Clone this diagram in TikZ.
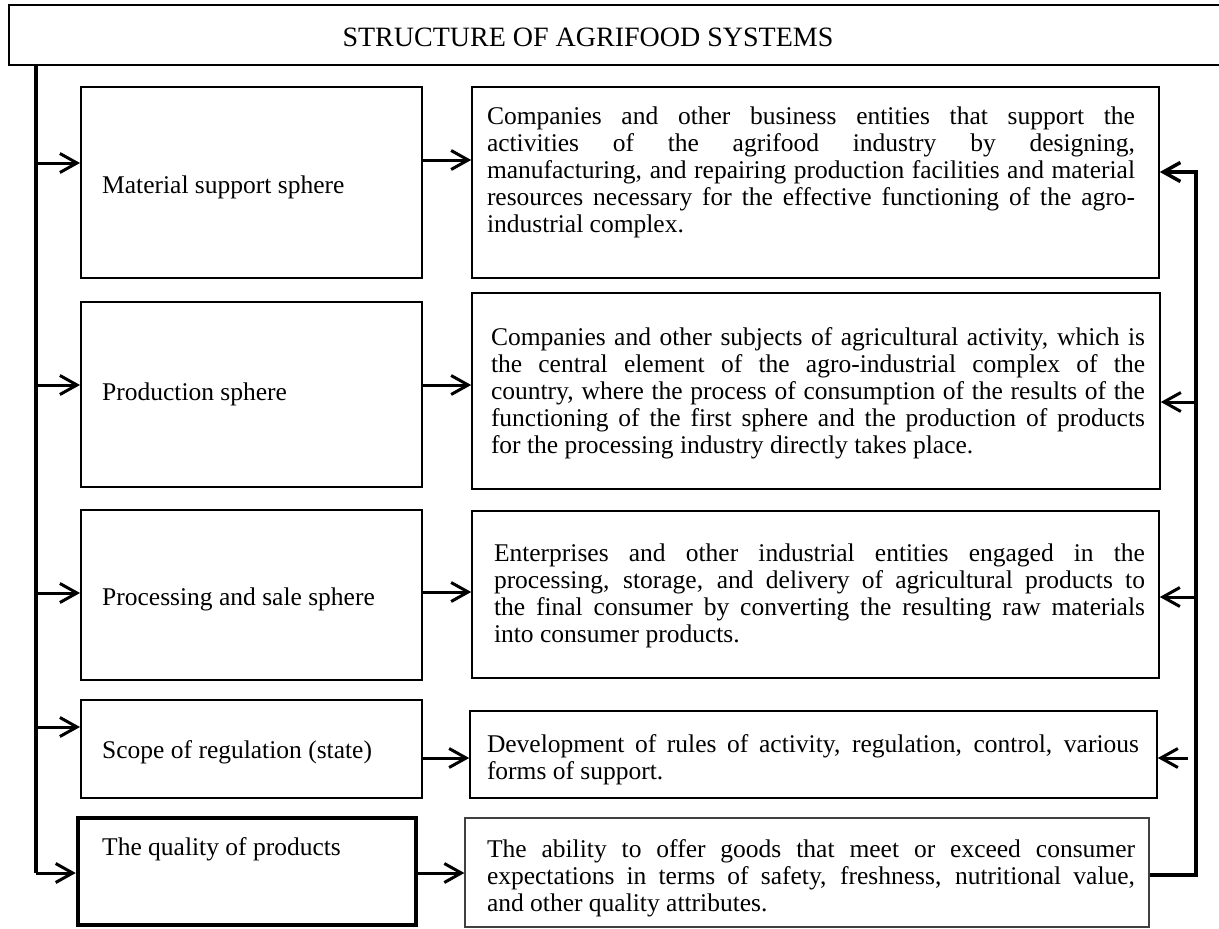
\documentclass[tikz,border=0pt]{standalone}
\usepackage{fontspec}
\setmainfont{Liberation Serif}
\usetikzlibrary{arrows.meta}
\begin{document}
\begin{tikzpicture}[x=1pt,y=-1pt,
  every node/.style={font=\fontsize{25.5pt}{27pt}\selectfont},
  lbox/.style={draw, line width=2pt, minimum width=341pt, inner sep=0pt},
  rbox/.style={draw, line width=1.6pt, inner sep=0pt},
  body/.style={text width=#1, align=justify, inner sep=0pt,
    execute at begin node={\tolerance=10000\hyphenpenalty=10000\pretolerance=-1}},
  lab/.style={anchor=base west, inner sep=0pt},
  arr/.style={line width=3pt, -{Straight Barb[length=17pt,width=19pt]}},
  spine/.style={line width=3.3pt}
]
\useasboundingbox (0,0) rectangle (1219,929);

% title
\node[draw, line width=2pt, minimum width=1222pt, minimum height=60pt, inner sep=0pt] (T) at (620,35) {};
\node[font=\fontsize{28pt}{30pt}\selectfont] (Tt) at (588,37) {STRUCTURE OF AGRIFOOD SYSTEMS};

% left boxes
\node[lbox, minimum height=191pt] (L1) at (251.5,182.5) {};
\node[lbox, minimum height=185pt] (L2) at (251.5,394.5) {};
\node[lbox, minimum height=170pt] (L3) at (251.5,595) {};
\node[lbox, minimum height=98pt]  (L4) at (251.5,749) {};
\node[draw, line width=4.5pt, minimum width=338pt, minimum height=107pt, inner sep=0pt] (L5) at (247,871.5) {};

\node[lab] (l1) at (102,193) {Material support sphere};
\node[lab] (l2) at (102,400) {Production sphere};
\node[lab] (l3) at (102,605) {Processing and sale sphere};
\node[lab] (l4) at (102,758) {Scope of regulation (state)};
\node[lab] (l5) at (102,855) {The quality of products};

% right boxes
\node[rbox, minimum width=687pt, minimum height=191pt] (R1) at (815.5,182.5) {};
\node[rbox, minimum width=688pt, minimum height=196pt] (R2) at (816,391) {};
\node[rbox, minimum width=687pt, minimum height=167pt] (R3) at (815.5,594.5) {};
\node[rbox, minimum width=687pt, minimum height=87pt]  (R4) at (813.5,754.5) {};
\node[draw=black!75, line width=1.2pt, minimum width=684pt, minimum height=109pt, inner sep=0pt] (R5) at (807,872.5) {};

\node[body=648pt] (t1) at (811,172) {Companies and other business entities that support the\linebreak
activities of the agrifood industry by designing,\linebreak
manufacturing, and repairing production facilities and material\linebreak
resources necessary for the effective functioning of the agro-\linebreak
industrial complex.};
\node[body=654pt] (t2) at (818,393) {Companies and other subjects of agricultural activity, which is\linebreak
the central element of the agro-industrial complex of the\linebreak
country, where the process of consumption of the results of the\linebreak
functioning of the first sphere and the production of products\linebreak
for the processing industry directly takes place.};
\node[body=651pt] (t3) at (819.5,596) {Enterprises and other industrial entities engaged in the\linebreak
processing, storage, and delivery of agricultural products to\linebreak
the final consumer by converting the resulting raw materials\linebreak
into consumer products.};
\node[body=652pt] (t4) at (813,760) {Development of rules of activity, regulation, control, various\linebreak
forms of support.};
\node[body=648pt] (t5) at (811,878.5) {The ability to offer goods that meet or exceed consumer\linebreak
expectations in terms of safety, freshness, nutritional value,\linebreak
and other quality attributes.};

% left spine
\coordinate (ls0) at (36,65);
\coordinate (ls1) at (36,163);
\coordinate (ls2) at (36,385);
\coordinate (ls3) at (36,593);
\coordinate (ls4) at (36,727);
\coordinate (ls5) at (36,873);
\draw[spine] (ls0) -- (ls5);
\draw[arr] (ls1) -- (ls1 -| L1.west);
\draw[arr] (ls2) -- (ls2 -| L2.west);
\draw[arr] (ls3) -- (ls3 -| L3.west);
\draw[arr] (ls4) -- (ls4 -| L4.west);
\draw[arr] (ls5) -- (ls5 -| L5.west);

% middle arrows
\coordinate (m1) at (0,160);
\coordinate (m2) at (0,385);
\coordinate (m3) at (0,592);
\coordinate (m4) at (0,758);
\coordinate (m5) at (0,873);
\draw[arr] (L1.east |- m1) -- (R1.west |- m1);
\draw[arr] (L2.east |- m2) -- (R2.west |- m2);
\draw[arr] (L3.east |- m3) -- (R3.west |- m3);
\draw[arr] (L4.east |- m4) -- (R4.west |- m4);
\draw[arr] (L5.east |- m5) -- (R5.west |- m5);

% right spine
\coordinate (rs1) at (1196,172);
\coordinate (rs2) at (1196,402);
\coordinate (rs3) at (1196,597);
\coordinate (rs4) at (1188,758);
\coordinate (rs5) at (1196,875);
\draw[arr, line width=3.5pt] (R5.east |- rs5) -- (rs5) -- (rs1) -- (R1.east |- rs1);
\draw[arr] (rs2) -- (R2.east |- rs2);
\draw[arr] (rs3) -- (R3.east |- rs3);
\draw[arr] (rs4) -- (R4.east |- rs4);
\end{tikzpicture}
\end{document}
